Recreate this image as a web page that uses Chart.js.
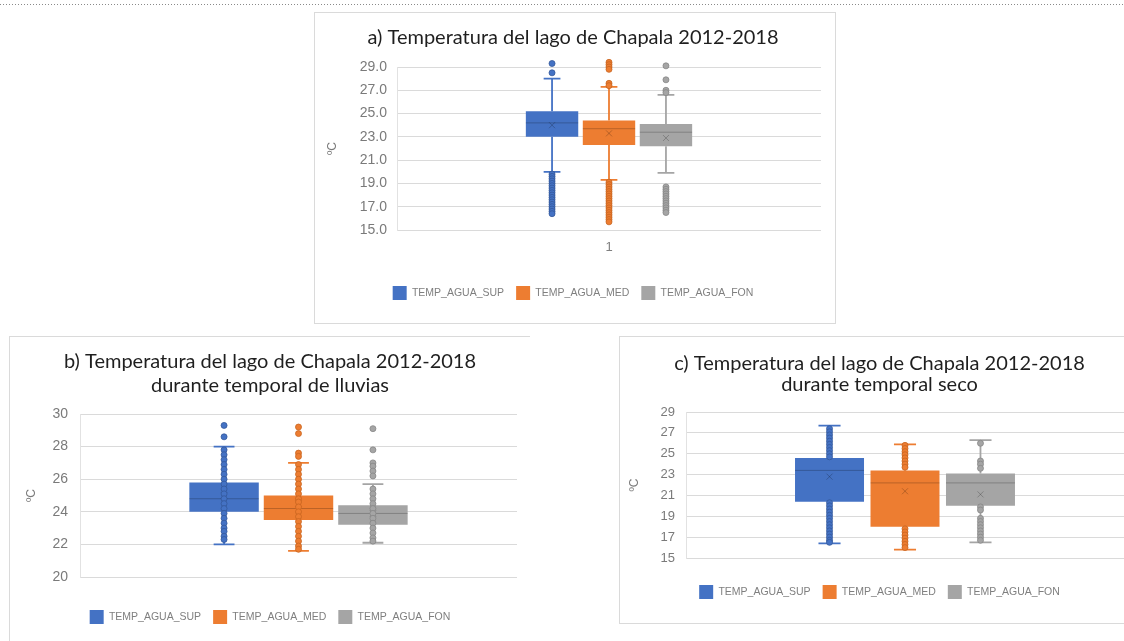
<!DOCTYPE html>
<html>
<head>
<meta charset="utf-8">
<title>Temperatura del lago de Chapala 2012-2018</title>
<script src="https://cdn.jsdelivr.net/npm/chart.js@4.4.1/dist/chart.umd.min.js"></script>
<style>
  html, body { margin: 0; padding: 0; background: #fff; }
  body { position: relative; width: 1124px; height: 641px; overflow: hidden; }
  .rule { position: absolute; left: 0; top: 4px; width: 1124px; height: 1px;
          background-image: linear-gradient(to right, #8a8a8a 1px, transparent 1px);
          background-size: 3px 1px; }
  .panel { position: absolute; box-sizing: border-box; border: 1px solid #dadada; background: #fff; }
  #pa { left: 314px; top: 12px; width: 522px; height: 312px; }
  #pb { left: 9px; top: 336px; width: 521px; height: 310px; border-right: none; border-bottom: none; }
  #pc { left: 619px; top: 336px; width: 505px; height: 288px; border-right: none; }
  canvas { position: absolute; left: 0; top: 0; }
</style>
</head>
<body>
<div class="rule"></div>
<div class="panel" id="pa"><canvas id="ca" width="520" height="310"></canvas></div>
<div class="panel" id="pb"><canvas id="cb" width="520" height="304"></canvas></div>
<div class="panel" id="pc"><canvas id="cc" width="504" height="286"></canvas></div>

<script>
// ---- series ----
const seriesNames = ['TEMP_AGUA_SUP', 'TEMP_AGUA_MED', 'TEMP_AGUA_FON'];
const categories = ['1'];

// a) whole period: whisker ends, quartiles, median, mean (SUP, MED, FON)
const aLow    = [20.0, 19.3, 19.9];
const aQ1     = [23.0, 22.3, 22.2];
const aMedian = [24.2, 23.7, 23.4];
const aQ3     = [25.2, 24.4, 24.1];
const aHigh   = [28.0, 27.3, 26.6];
const aMean   = [24.0, 23.3, 22.9];
const aPtsSup = [29.3, 28.5, 19.8, 19.6, 19.4, 19.2, 19.0, 18.8, 18.6, 18.4, 18.2, 18.0, 17.8, 17.6, 17.4, 17.2, 17.0, 16.8, 16.6, 16.4];
const aPtsMed = [29.4, 29.2, 29.0, 28.8, 27.6, 27.4, 19.1, 18.9, 18.7, 18.5, 18.3, 18.1, 17.9, 17.7, 17.5, 17.3, 17.1, 16.9, 16.7, 16.5, 16.3, 16.1, 15.9, 15.7];
const aPtsFon = [29.1, 27.9, 27.0, 26.8, 18.7, 18.5, 18.3, 18.1, 17.9, 17.7, 17.5, 17.3, 17.1, 16.9, 16.7, 16.5];

// b) rainy season
const bLow    = [22.0, 21.6, 22.1];
const bQ1     = [24.0, 23.5, 23.2];
const bMedian = [24.8, 24.2, 23.9];
const bQ3     = [25.8, 25.0, 24.4];
const bHigh   = [28.0, 27.0, 25.7];
const bMean   = [25.0, 24.5, 23.9];
const bPtsSup = [29.3, 28.6, 27.8, 27.5, 27.2, 26.9, 26.6, 26.3, 26.0, 25.7, 25.4, 25.1, 24.8, 24.5, 24.2, 23.9, 23.6, 23.3, 23.0, 22.8, 22.5, 22.3];
const bPtsMed = [29.2, 28.8, 27.6, 27.4, 26.9, 26.6, 26.3, 26.0, 25.7, 25.4, 25.1, 24.8, 24.6, 24.3, 24.0, 23.7, 23.4, 23.1, 22.8, 22.5, 22.2, 21.9, 21.7];
const bPtsFon = [29.1, 27.8, 27.0, 26.8, 26.5, 26.2, 25.4, 25.1, 24.8, 24.5, 24.2, 23.9, 23.6, 23.3, 23.0, 22.7, 22.4, 22.2];

// c) dry season
const cLow    = [16.4, 15.8, 16.5];
const cQ1     = [20.4, 18.0, 20.0];
const cMedian = [23.4, 22.2, 22.2];
const cQ3     = [24.6, 23.4, 23.1];
const cHigh   = [27.7, 25.9, 26.3];
const cMean   = [22.8, 21.4, 21.1];
const cPtsSup = [27.4, 27.1, 26.8, 26.5, 26.2, 25.9, 25.6, 25.3, 25.0, 24.7, 20.3, 20.0, 19.7, 19.4, 19.1, 18.8, 18.5, 18.2, 17.9, 17.6, 17.3, 17.0, 16.7, 16.5];
const cPtsMed = [25.8, 25.5, 25.2, 24.9, 24.6, 24.3, 24.0, 23.7, 17.8, 17.5, 17.2, 16.9, 16.6, 16.3, 16.0];
const cPtsFon = [26.0, 24.3, 24.0, 23.6, 19.9, 19.6, 18.8, 18.5, 18.2, 17.9, 17.6, 17.3, 17.0, 16.7];

// ---- styling ----
const seriesColors = ['#4472C4', '#ED7D31', '#A5A5A5'];
const pointEdges   = ['#34589a', '#c8641f', '#868686'];

// draws whiskers, caps, median, mean and individual points on top of each floating-bar box
const boxPlot = {
  id: 'boxPlot',
  afterDatasetsDraw(chart, args, o) {
    const ctx = chart.ctx;
    const y = chart.scales.y;
    chart.data.datasets.forEach((ds, i) => {
      const bar = chart.getDatasetMeta(i).data[0];
      if (!bar) return;
      const cx = bar.x, hw = bar.width / 2, cap = bar.width * o.cap / 2;
      const yLow = y.getPixelForValue(o.low[i]);
      const yHigh = y.getPixelForValue(o.high[i]);
      const yQ1 = y.getPixelForValue(o.q1[i]);
      const yQ3 = y.getPixelForValue(o.q3[i]);
      ctx.save();
      ctx.strokeStyle = seriesColors[i];
      ctx.lineWidth = 1.8;
      ctx.beginPath();
      ctx.moveTo(cx, yQ3); ctx.lineTo(cx, yHigh);
      ctx.moveTo(cx - cap, yHigh); ctx.lineTo(cx + cap, yHigh);
      ctx.moveTo(cx, yQ1); ctx.lineTo(cx, yLow);
      ctx.moveTo(cx - cap, yLow); ctx.lineTo(cx + cap, yLow);
      ctx.stroke();

      ctx.strokeStyle = 'rgba(0,0,0,0.22)';
      ctx.lineWidth = 1;
      const yMed = y.getPixelForValue(o.median[i]);
      ctx.beginPath();
      ctx.moveTo(cx - hw, yMed); ctx.lineTo(cx + hw, yMed);
      ctx.stroke();
      const yMean = y.getPixelForValue(o.mean[i]), s = 3;
      ctx.beginPath();
      ctx.moveTo(cx - s, yMean - s); ctx.lineTo(cx + s, yMean + s);
      ctx.moveTo(cx + s, yMean - s); ctx.lineTo(cx - s, yMean + s);
      ctx.stroke();

      ctx.fillStyle = seriesColors[i];
      ctx.strokeStyle = pointEdges[i];
      ctx.lineWidth = 0.8;
      o.points[i].forEach(v => {
        const py = y.getPixelForValue(v);
        ctx.beginPath();
        ctx.arc(cx, py, o.r, 0, Math.PI * 2);
        ctx.fill();
        ctx.stroke();
      });
      ctx.restore();
    });
  }
};

function makeChart(id, W, H, g, d) {
  const lh = g.titleSize * g.titleLH;
  const titleTop = g.titleY - lh / 2;
  const legendPad = 12;
  const legendTop = g.legendY - 7 - legendPad;
  return new Chart(document.getElementById(id), {
    type: 'bar',
    data: {
      labels: categories,
      datasets: seriesNames.map((name, i) => ({
        label: name,
        data: [[d.q1[i], d.q3[i]]],
        backgroundColor: seriesColors[i],
        borderWidth: 0,
        borderSkipped: false,
        categoryPercentage: g.cat,
        barPercentage: g.bar
      }))
    },
    options: {
      responsive: false,
      animation: false,
      events: [],
      layout: { padding: { top: 0, left: g.padL, right: W - g.right, bottom: H - (g.legendY + 17) } },
      plugins: {
        title: {
          display: true,
          text: d.title,
          color: '#1f1f1f',
          font: { family: 'Lato', size: g.titleSize, weight: 'normal', lineHeight: g.titleLH },
          padding: { top: titleTop, bottom: g.top - titleTop - d.title.length * lh }
        },
        legend: {
          position: 'bottom',
          labels: {
            boxWidth: 14, boxHeight: 14, padding: legendPad,
            color: '#7f7f7f',
            font: { family: 'Liberation Sans', size: 10.5 }
          }
        },
        tooltip: { enabled: false },
        boxPlot: {
          low: d.low, q1: d.q1, median: d.median, q3: d.q3, high: d.high, mean: d.mean,
          points: d.points, r: 3, cap: g.cap
        }
      },
      scales: {
        x: {
          grid: { display: false, drawTicks: false },
          border: { display: false },
          ticks: { display: g.showX, color: '#7f7f7f', padding: 10, font: { family: 'Liberation Sans', size: 13 } },
          afterFit: s => { s.height = legendTop - g.bottom; }
        },
        y: {
          min: d.min, max: d.max,
          ticks: {
            stepSize: 2,
            color: '#7a7a7a',
            padding: g.tickPad,
            font: { family: 'Liberation Sans', size: g.tickSize },
            callback: v => v.toFixed(d.decimals)
          },
          grid: { color: '#dadada', drawTicks: false },
          border: { color: '#e2e2e2' },
          title: {
            display: true, text: 'ºC', color: '#7a7a7a',
            font: { family: 'Liberation Sans', size: 12, lineHeight: 1.2 },
            padding: { top: g.yTitleX - g.padL - 7.2, bottom: 0 }
          },
          afterFit: s => { s.width = g.left - g.padL; }
        }
      }
    },
    plugins: [boxPlot]
  });
}

makeChart('ca', 520, 310,
  { padL: 10, left: 82, right: 506, top: 54, bottom: 217, titleY: 25, legendY: 280,
    titleSize: 20, titleLH: 1.16, yTitleX: 18, tickSize: 14, tickPad: 10,
    cat: 0.403, bar: 0.92, cap: 0.32, showX: true },
  { title: ['a) Temperatura del lago de Chapala 2012-2018'], min: 15, max: 29, decimals: 1,
    low: aLow, q1: aQ1, median: aMedian, q3: aQ3, high: aHigh, mean: aMean,
    points: [aPtsSup, aPtsMed, aPtsFon] });

makeChart('cb', 520, 304,
  { padL: 13, left: 70, right: 507, top: 77, bottom: 240, titleY: 24.7, legendY: 280,
    titleSize: 20, titleLH: 1.17, yTitleX: 22, tickSize: 14, tickPad: 12,
    cat: 0.511, bar: 0.933, cap: 0.3, showX: false },
  { title: ['b) Temperatura del lago de Chapala 2012-2018', 'durante temporal de lluvias'],
    min: 20, max: 30, decimals: 0,
    low: bLow, q1: bQ1, median: bMedian, q3: bQ3, high: bHigh, mean: bMean,
    points: [bPtsSup, bPtsMed, bPtsFon] });

makeChart('cc', 504, 286,
  { padL: 15, left: 66, right: 504, top: 75, bottom: 221, titleY: 26.3, legendY: 255,
    titleSize: 20, titleLH: 1.085, yTitleX: 15, tickSize: 13, tickPad: 11,
    cat: 0.517, bar: 0.914, cap: 0.32, showX: false },
  { title: ['c) Temperatura del lago de Chapala 2012-2018', 'durante temporal seco'],
    min: 15, max: 29, decimals: 0,
    low: cLow, q1: cQ1, median: cMedian, q3: cQ3, high: cHigh, mean: cMean,
    points: [cPtsSup, cPtsMed, cPtsFon] });
</script>
</body>
</html>
